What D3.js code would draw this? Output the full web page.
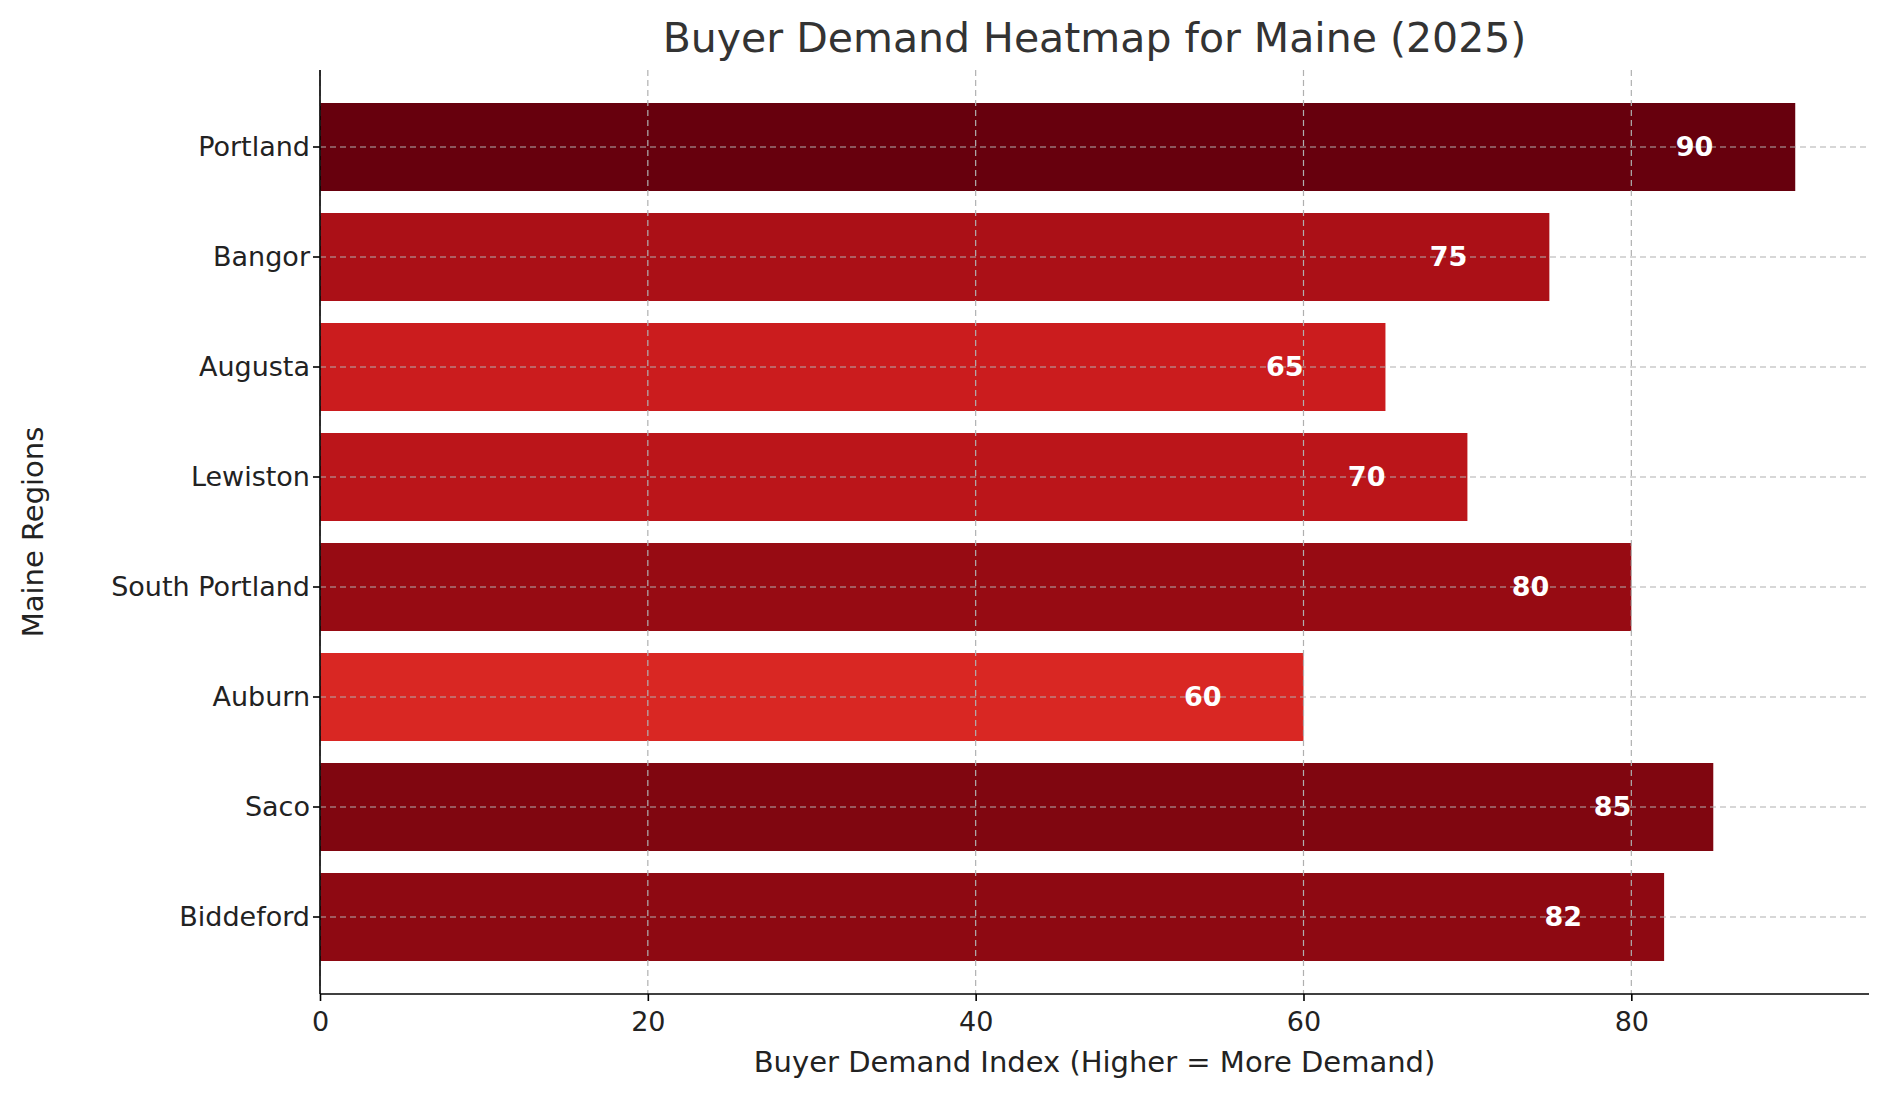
<!DOCTYPE html>
<html><head><meta charset="utf-8">
<script src="https://cdn.jsdelivr.net/npm/d3@7"></script>
<style>body{margin:0;background:#fff}svg{font-family:"DejaVu Sans",sans-serif}</style>
</head><body><svg id="c" width="1889" height="1101"></svg>
<script>
const regions=["Portland","Bangor","Augusta","Lewiston","South Portland","Auburn","Saco","Biddeford"];
const demand=[90,75,65,70,80,60,85,82];
const xTicks=[0,20,40,60,80];
const svg=d3.select("#c");
const m={l:320,r:1869,t:70,b:994};
const x=d3.scaleLinear().domain([0,94.5]).range([m.l,m.r]);
const y=d3.scaleBand().domain(regions).range([m.t,m.b]).paddingInner(0.2).paddingOuter(0.3);
const col=d3.scaleLinear().domain([60,90]).range([0.7,1]);
const data=regions.map((r,i)=>({r,v:demand[i]}));
svg.selectAll("rect.bar").data(data).join("rect").attr("x",x(0)).attr("y",d=>y(d.r))
 .attr("width",d=>x(d.v)-x(0)).attr("height",y.bandwidth()).attr("fill",d=>d3.interpolateReds(col(d.v)));
const g=svg.append("g").attr("stroke","#b0b0b0").attr("stroke-dasharray","6,4").attr("stroke-width",1.2);
xTicks.forEach(t=>g.append("line").attr("x1",x(t)).attr("x2",x(t)).attr("y1",m.t).attr("y2",m.b));
regions.forEach(r=>g.append("line").attr("x1",m.l).attr("x2",m.r).attr("y1",y(r)+y.bandwidth()/2).attr("y2",y(r)+y.bandwidth()/2));
svg.selectAll("text.v").data(data).join("text").attr("x",d=>x(d.v-5)).attr("y",d=>y(d.r)+y.bandwidth()/2)
 .attr("dy","0.35em").attr("text-anchor","end").attr("fill","#fff").attr("font-weight","bold").attr("font-size",27).text(d=>d.v);
const xa=svg.append("g").attr("transform",`translate(0,${m.b})`).call(d3.axisBottom(x).tickValues(xTicks).tickSize(7).tickSizeOuter(0));
const ya=svg.append("g").attr("transform",`translate(${m.l},0)`).call(d3.axisLeft(y).tickSize(7).tickSizeOuter(0));
[xa,ya].forEach(a=>{a.selectAll("text").attr("font-size",27).attr("fill","#222").attr("font-family","DejaVu Sans");a.selectAll("path,line").attr("stroke","#000").attr("stroke-width",1.6);});
xa.selectAll("text").attr("dy","1em");
ya.select("path").attr("d",`M0,${m.t}V${m.b}`);
xa.select("path").attr("d",`M${m.l},0H${m.r}`);
svg.append("text").attr("x",(m.l+m.r)/2).attr("y",1072).attr("text-anchor","middle").attr("font-size",29).attr("fill","#222").text("Buyer Demand Index (Higher = More Demand)");
svg.append("text").attr("transform",`translate(43,${(m.t+m.b)/2}) rotate(-90)`).attr("text-anchor","middle").attr("font-size",29).attr("fill","#222").text("Maine Regions");
svg.append("text").attr("x",(m.l+m.r)/2).attr("y",52).attr("text-anchor","middle").attr("font-size",41).attr("fill","#333").text("Buyer Demand Heatmap for Maine (2025)");
</script></body></html>
